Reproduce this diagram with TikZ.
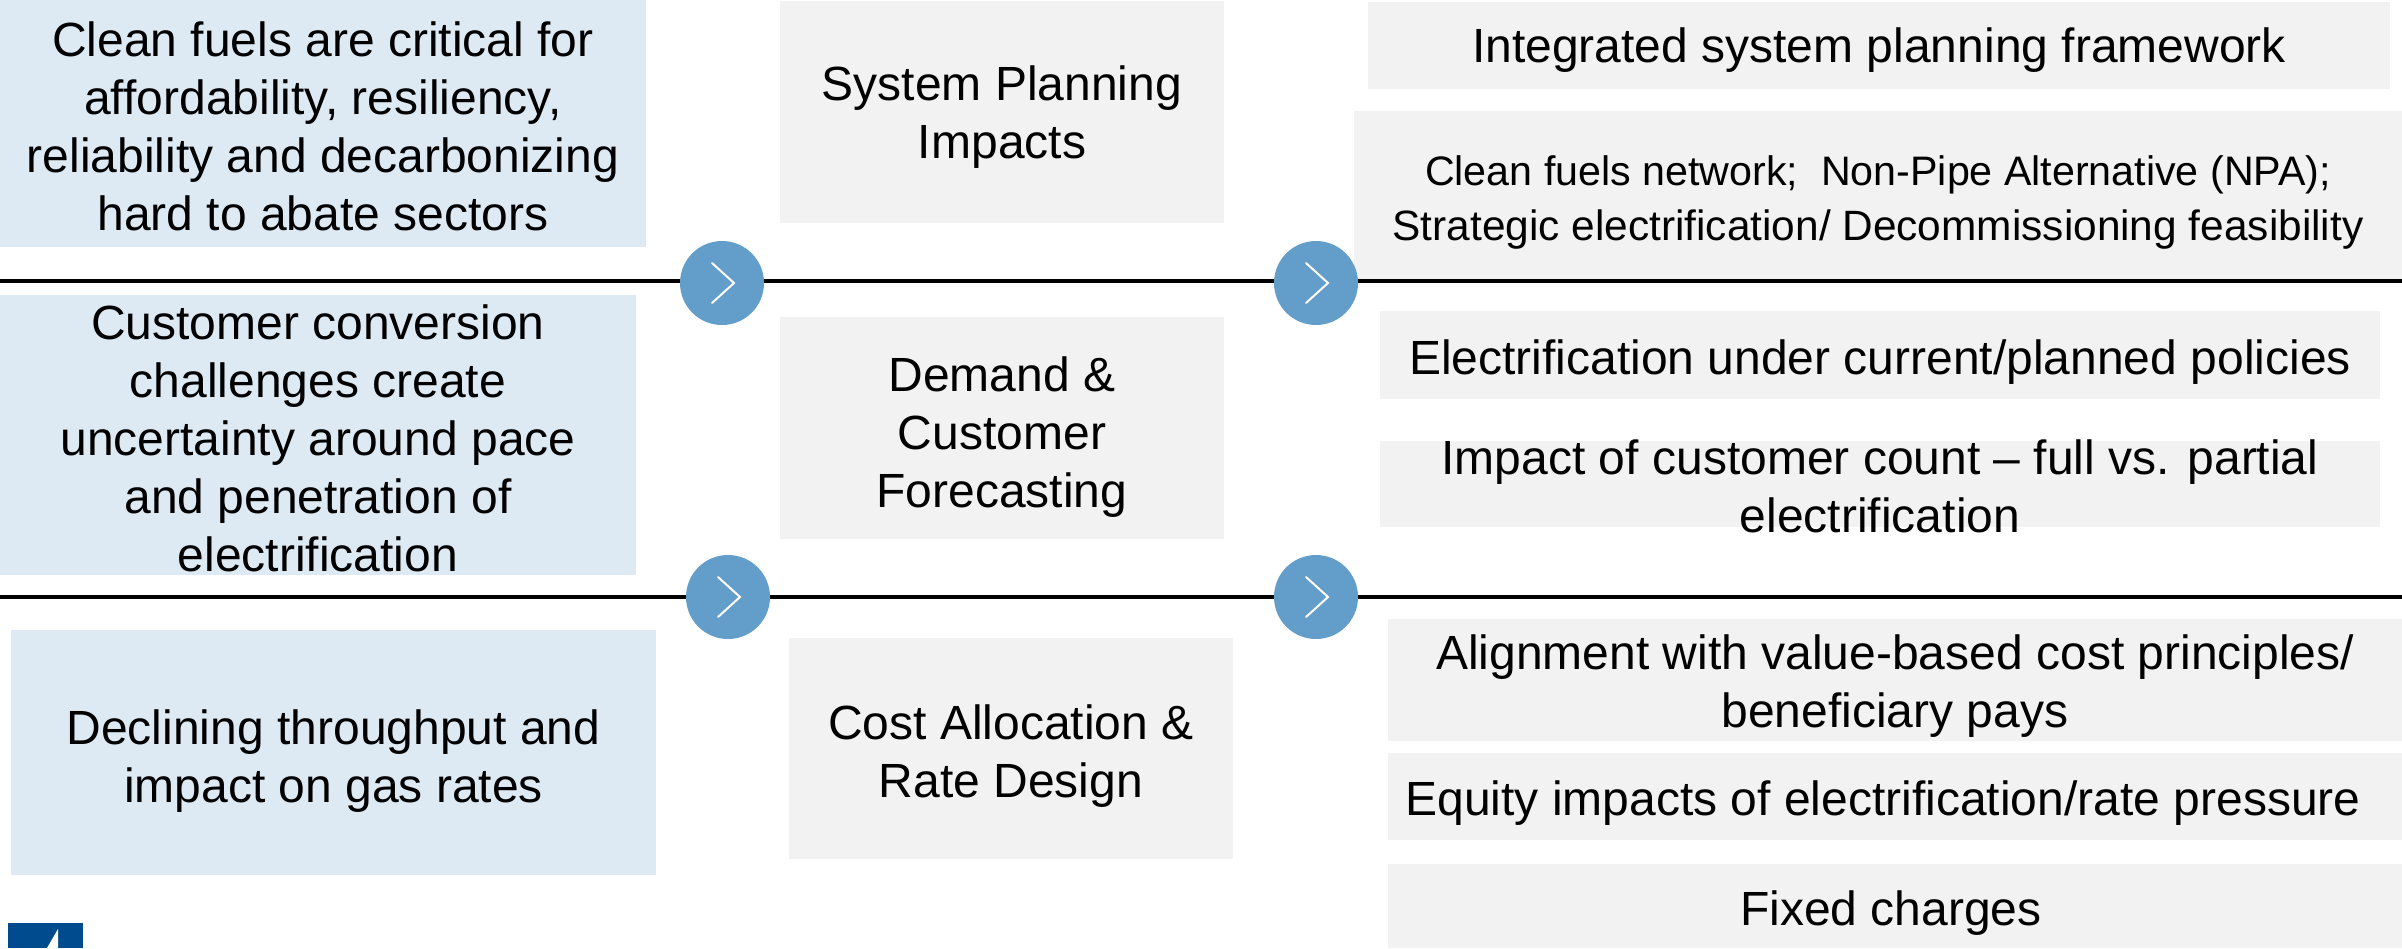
\documentclass[tikz,border=0pt]{standalone}
\usepackage{fontspec}
\setmainfont{Liberation Sans}
\definecolor{paleblue}{HTML}{DEEAF3}
\definecolor{palegray}{HTML}{F2F2F2}
\definecolor{midblue}{HTML}{639DC9}
\definecolor{logoblue}{HTML}{004B8D}
\tikzset{
  bluebox/.style={fill=paleblue,draw=none,inner sep=0pt,outer sep=0pt},
  graybox/.style={fill=palegray,draw=none,inner sep=0pt,outer sep=0pt},
  txt/.style={align=center,inner sep=0pt,font=\fontsize{48}{58}\selectfont},
  smalltxt/.style={align=center,inner sep=0pt,font=\fontsize{42.4}{55}\selectfont},
  rule/.style={draw=black,line width=4pt},
  disc/.style={circle,fill=midblue,draw=none,minimum size=84pt,inner sep=0pt,outer sep=0pt},
  chev/.style={draw=white,line width=2pt,line cap=round,line join=miter}
}
\begin{document}
\begin{tikzpicture}[x=1pt,y=-1pt]
\useasboundingbox (0,0) rectangle (2402,948);
% left column
\node[bluebox,minimum width=646pt,minimum height=247pt] (b1) at (323,123.5) {};
\node[bluebox,minimum width=636pt,minimum height=280pt] (b2) at (318,435) {};
\node[bluebox,minimum width=645pt,minimum height=245pt] (b3) at (333.5,752.5) {};
% middle column
\node[graybox,minimum width=444pt,minimum height=222pt] (m1) at (1002,112) {};
\node[graybox,minimum width=444pt,minimum height=222pt] (m2) at (1002,428) {};
\node[graybox,minimum width=444pt,minimum height=221pt] (m3) at (1011,748) {};
% right column
\node[graybox,minimum width=1022pt,minimum height=87pt] (r1) at (1879,45.5) {};
\node[graybox,minimum width=1048pt,minimum height=170pt] (r2) at (1878,196) {};
\node[graybox,minimum width=1000pt,minimum height=88pt] (r3) at (1880,355) {};
\node[graybox,minimum width=1000pt,minimum height=86pt] (r4) at (1880,484) {};
\node[graybox,minimum width=1014pt,minimum height=122pt] (r5) at (1895,680) {};
\node[graybox,minimum width=1014pt,minimum height=87pt] (r6) at (1895,796.5) {};
\node[graybox,minimum width=1014pt,minimum height=84pt] (r7) at (1895,906) {};
% logo
\fill[logoblue] (8,923) rectangle (83,948);
\fill[white] (58,929) -- (58,948) -- (47,948) -- cycle;
% rules and discs
\coordinate (la) at (0,281);
\coordinate (ra) at (2402,281);
\coordinate (lb) at (0,597);
\coordinate (rb) at (2402,597);
\node[disc] (c1) at (722,283) {};
\node[disc] (c2) at (1316,283) {};
\node[disc] (c3) at (728,597) {};
\node[disc] (c4) at (1316,597) {};
\draw[rule] (la) -- (c1.west |- la);
\draw[rule] (c1.east |- la) -- (c2.west |- la);
\draw[rule] (c2.east |- la) -- (ra);
\draw[rule] (lb) -- (c3.west |- lb);
\draw[rule] (c3.east |- lb) -- (c4.west |- lb);
\draw[rule] (c4.east |- lb) -- (rb);
\foreach \c in {c1,c2,c3,c4}
  \draw[chev] ([xshift=-10pt,yshift=20pt]\c.center) -- ([xshift=12pt,yshift=0pt]\c.center) -- ([xshift=-10pt,yshift=-20pt]\c.center);
% text
\node[txt,yshift=-3pt] (t1) at (b1.center) {Clean fuels are critical for\\affordability, resiliency,\\reliability and decarbonizing\\hard to abate sectors};
\node[txt,yshift=-3pt] (t2) at (b2.center) {Customer conversion\\challenges create\\uncertainty around pace\\and penetration of\\electrification};
\node[txt,yshift=-9pt] (t3) at (b3.center) {Declining throughput and\\impact on gas rates};
\node[txt,yshift=-5pt] (t4) at (m1.center) {System Planning\\Impacts};
\node[txt,yshift=-9pt] (t5) at (m2.center) {Demand \&\\Customer\\Forecasting};
\node[txt,yshift=-8pt] (t6) at (m3.center) {Cost Allocation \&\\Rate Design};
\node[txt,yshift=-5pt] (t7) at (r1.center) {Integrated system planning framework};
\node[smalltxt,yshift=-6pt] (t8) at (r2.center) {{\fontsize{41.2}{55}\selectfont Clean fuels network;\ \ Non-Pipe Alternative (NPA);}\\Strategic electrification/ Decommissioning feasibility};
\node[txt,yshift=-7pt] (t9) at (r3.center) {Electrification under current/planned policies};
\node[txt,yshift=-2pt] (t10) at (r4.center) {Impact of customer count -- full vs. partial\\electrification};
\node[txt,yshift=-6pt] (t11) at (r5.center) {Alignment with value-based cost principles/\\beneficiary pays};
\node[txt,yshift=-7pt,xshift=-12pt] (t12) at (r6.center) {Equity impacts of electrification/rate pressure};
\node[txt,yshift=-7pt,xshift=-4pt] (t13) at (r7.center) {Fixed charges};
\end{tikzpicture}
\end{document}
